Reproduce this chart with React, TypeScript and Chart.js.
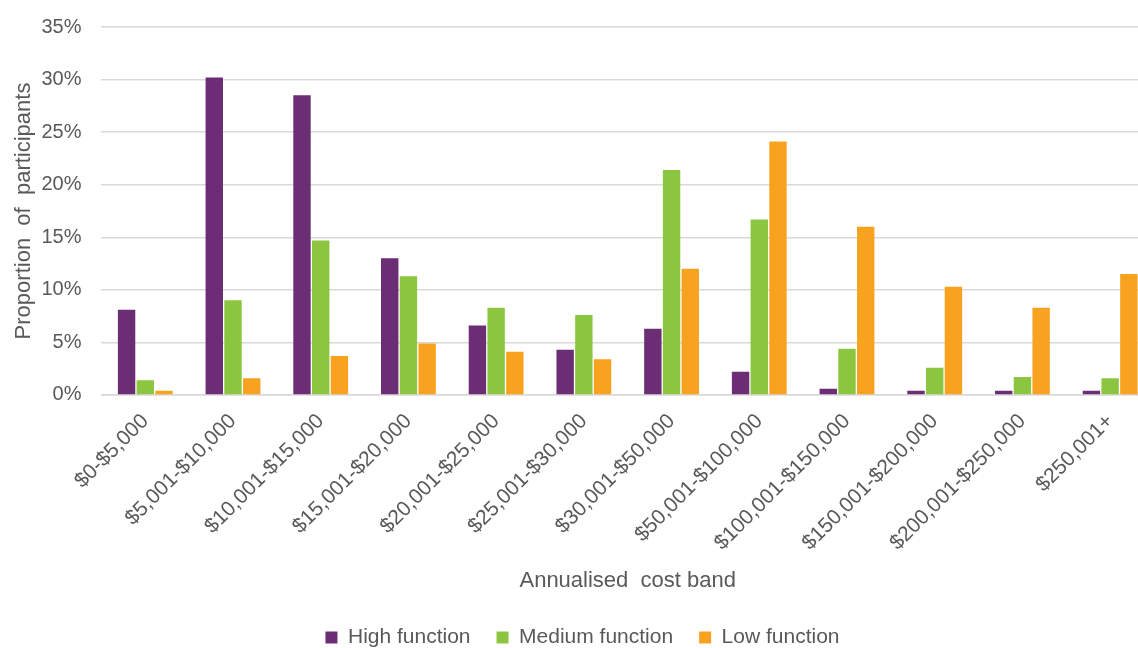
import { useEffect, useRef } from "react";
import { Chart, registerables } from "chart.js";

Chart.register(...registerables);

const bands = [
  "$0-$5,000",
  "$5,001-$10,000",
  "$10,001-$15,000",
  "$15,001-$20,000",
  "$20,001-$25,000",
  "$25,001-$30,000",
  "$30,001-$50,000",
  "$50,001-$100,000",
  "$100,001-$150,000",
  "$150,001-$200,000",
  "$200,001-$250,000",
  "$250,001+",
];

const highFunction = [8.1, 30.2, 28.5, 13.0, 6.6, 4.3, 6.3, 2.2, 0.6, 0.4, 0.4, 0.4];
const mediumFunction = [1.4, 9.0, 14.7, 11.3, 8.3, 7.6, 21.4, 16.7, 4.4, 2.6, 1.7, 1.6];
const lowFunction = [0.4, 1.6, 3.7, 4.9, 4.1, 3.4, 12.0, 24.1, 16.0, 10.3, 8.3, 11.5];

const FONT = "'Liberation Sans', Arial, sans-serif";
const TEXT = "#595959";

export default function App() {
  const canvasRef = useRef<HTMLCanvasElement | null>(null);

  useEffect(() => {
    if (!canvasRef.current) return;
    const chart = new Chart(canvasRef.current, {
      type: "bar",
      data: {
        labels: bands,
        datasets: [
          { label: "High function", data: highFunction, backgroundColor: "#6B2D74" },
          { label: "Medium function", data: mediumFunction, backgroundColor: "#8CC640" },
          { label: "Low function", data: lowFunction, backgroundColor: "#F9A21F" },
        ],
      },
      options: {
        animation: false,
        responsive: true,
        maintainAspectRatio: false,
        layout: { padding: { top: 27, right: 10, left: 11, bottom: 0 } },
        datasets: {
          bar: { categoryPercentage: 0.64, barPercentage: 0.93 },
        },
        plugins: {
          tooltip: { enabled: false },
          legend: {
            position: "bottom",
            labels: {
              color: TEXT,
              font: { family: FONT, size: 21 },
              boxWidth: 12,
              boxHeight: 12,
              padding: 26,
            },
          },
        },
        scales: {
          x: {
            grid: { display: false, drawTicks: false },
            border: { display: true, color: "#D9D9D9", width: 1.5 },
            ticks: {
              color: TEXT,
              font: { family: FONT, size: 21 },
              minRotation: 45,
              maxRotation: 45,
              padding: 14,
            },
            title: {
              display: true,
              text: "Annualised  cost band",
              color: TEXT,
              font: { family: FONT, size: 22 },
              padding: { top: 0, bottom: 7 },
            },
            // rotated labels already fit inside the left margin
            afterFit: (scale) => {
              scale.paddingLeft = 0;
              scale.paddingRight = 0;
              scale.height -= 2;
            },
          },
          y: {
            min: 0,
            max: 35,
            grid: { color: "#D9D9D9", lineWidth: 1.5, drawTicks: false },
            border: { display: false },
            ticks: {
              stepSize: 5,
              color: TEXT,
              font: { family: FONT, size: 20 },
              padding: 20,
              callback: (v) => `${v}%`,
            },
            title: {
              display: true,
              text: "Proportion  of  participants",
              color: TEXT,
              font: { family: FONT, size: 22 },
              padding: { top: 0, bottom: 4 },
            },
            // tick padding is only needed on the plot side
            afterFit: (scale) => {
              scale.width -= 20;
              scale.paddingTop = 0;
            },
          },
        },
      },
    });
    return () => chart.destroy();
  }, []);

  return (
    <div
      style={{
        position: "fixed",
        left: 0,
        top: 0,
        width: 1138,
        height: 648,
        overflow: "hidden",
        background: "#fff",
      }}
    >
      <div style={{ position: "relative", width: 1164, height: 658 }}>
        <canvas ref={canvasRef} />
      </div>
    </div>
  );
}
